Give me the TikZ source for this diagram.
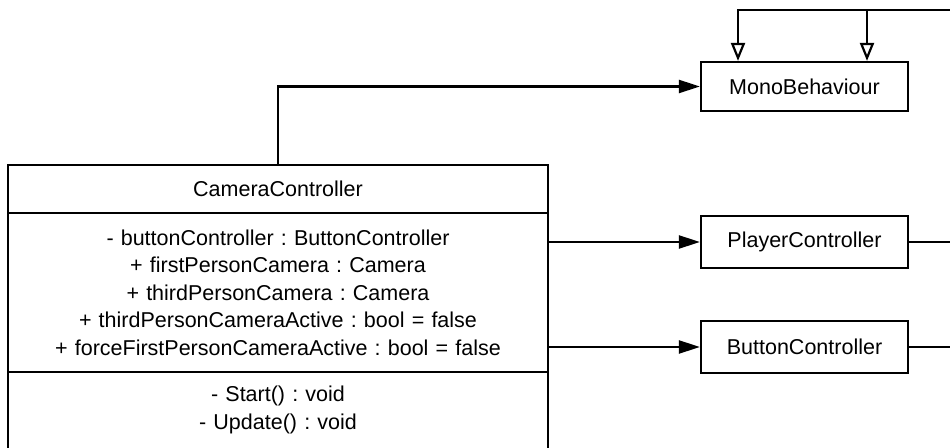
\documentclass[tikz,border=0pt]{standalone}
\usepackage{fontspec}
\setmainfont{Liberation Sans}
\frenchspacing
\usetikzlibrary{arrows.meta,positioning}

\begin{document}
\begin{tikzpicture}[
  x=1pt, y=1pt,
  font=\fontsize{21.5pt}{27.5pt}\selectfont,
  cls/.style={draw, line width=2.2pt, minimum width=207pt, minimum height=50pt,
              inner sep=0pt},
  part/.style={draw, line width=2.2pt, text width=540pt, align=center,
               inner xsep=0pt, outer sep=0pt},
  assoc/.style={-{Triangle[length=21pt, width=13pt]}, line width=2.2pt},
  inherit/.style={-{Triangle[open, length=18pt, width=14pt]}, line width=2.2pt}
]
\useasboundingbox (0,0) rectangle (950,447);

% ---- class box, runs off the bottom edge
\node[part, minimum height=48pt] (cam) at (278,258) {CameraController};
\node[part, minimum height=159pt, below=0pt of cam] (camattr)
  {- buttonController : ButtonController\\
   + firstPersonCamera : Camera\\
   + thirdPersonCamera : Camera\\
   + thirdPersonCameraActive : bool = false\\
   + forceFirstPersonCameraActive : bool = false};
\node[part, inner ysep=14pt, text depth=70pt, below=0pt of camattr] (cammeth)
  {- Start() : void\\
   - Update() : void};

% ---- other classes
\node[cls, minimum height=49pt] (mono) at (804.5,360.5) {MonoBehaviour};
\node[cls, minimum height=52pt] (player) at (804.5,205) {PlayerController};
\node[cls, minimum height=52pt] (button) at (804.5,100) {ButtonController};

% ---- associations
\draw[assoc] (cam.north) |- (mono.west);
\draw[assoc] (camattr.east |- player.west) -- (player.west);
\draw[assoc] (camattr.east |- button.west) -- (button.west);

% ---- inheritance, routed beyond the right edge
\coordinate (edgeA) at (975,437);
\coordinate (edgeB) at (990,437);
\draw[inherit] (player.east) -| (edgeA) -| ([xshift=62.5pt]mono.north);
\draw[inherit] (button.east) -| (edgeB) -| ([xshift=-66.5pt]mono.north);
\end{tikzpicture}
\end{document}
